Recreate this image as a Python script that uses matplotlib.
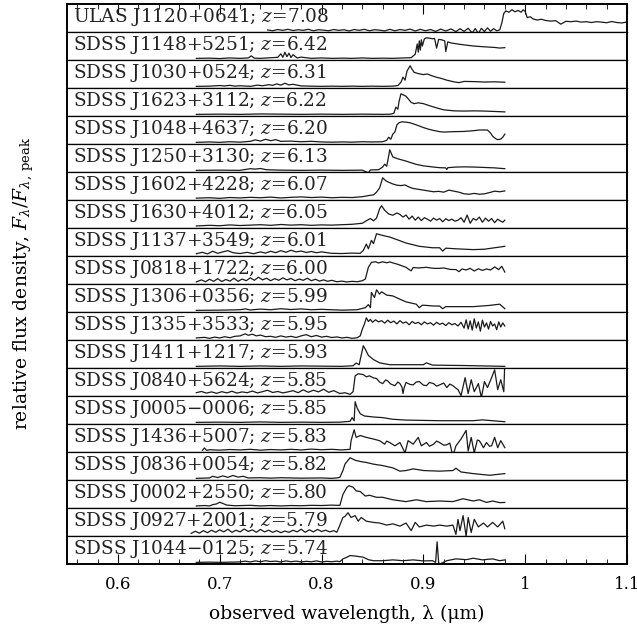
import matplotlib
matplotlib.use("Agg")
import matplotlib.pyplot as plt
from matplotlib.ticker import MultipleLocator

plt.rcParams["font.family"] = "DejaVu Serif"
plt.rcParams["mathtext.fontset"] = "dejavuserif"

# 类星体名称与红移
names = ["ULAS J1120+0641", "SDSS J1148+5251", "SDSS J1030+0524", "SDSS J1623+3112",
         "SDSS J1048+4637", "SDSS J1250+3130", "SDSS J1602+4228", "SDSS J1630+4012",
         "SDSS J1137+3549", "SDSS J0818+1722", "SDSS J1306+0356", "SDSS J1335+3533",
         "SDSS J1411+1217", "SDSS J0840+5624", "SDSS J0005\u22120006", "SDSS J1436+5007",
         "SDSS J0836+0054", "SDSS J0002+2550", "SDSS J0927+2001", "SDSS J1044\u22120125"]
redshifts = ["7.08", "6.42", "6.31", "6.22", "6.20", "6.13", "6.07", "6.05", "6.01", "6.00",
             "5.99", "5.95", "5.93", "5.85", "5.85", "5.83", "5.82", "5.80", "5.79", "5.74"]

# 光谱 (波长 um, 相对流量)
ulas_j1120 = [(0.747,0.02),(0.752,-0.02),(0.757,0.04),(0.762,0.0),(0.767,0.05),(0.772,-0.01),(0.777,0.03),(0.782,0.0),
    (0.787,0.05),(0.792,-0.02),(0.797,0.03),(0.802,0.01),(0.807,-0.02),(0.812,0.04),(0.817,0.0),(0.822,0.03),(0.827,-0.03),
    (0.832,0.04),(0.837,0.0),(0.842,0.05),(0.847,-0.02),(0.852,0.03),(0.857,0.01),(0.862,-0.03),(0.867,0.05),(0.872,-0.02),
    (0.877,0.04),(0.882,0.0),(0.887,0.06),(0.892,-0.03),(0.897,0.05),(0.902,-0.02),(0.907,0.04),(0.912,-0.05),(0.917,0.06),
    (0.922,-0.03),(0.927,0.07),(0.932,-0.06),(0.936,0.08),(0.940,-0.05),(0.944,0.1),(0.948,-0.12),(0.951,0.09),(0.954,-0.15),
    (0.957,0.1),(0.960,-0.06),(0.963,0.12),(0.966,-0.04),(0.969,0.08),(0.972,-0.02),(0.975,0.02),(0.977,0.35),(0.979,0.82),
    (0.981,0.95),(0.984,0.88),(0.987,1.0),(0.990,0.9),(0.993,0.97),(0.996,0.88),(0.998,1.0),(1.000,0.92),(1.002,0.62),
    (1.005,0.66),(1.008,0.55),(1.012,0.5),(1.016,0.54),(1.02,0.48),(1.025,0.45),(1.03,0.47),(1.035,0.3),(1.04,0.44),
    (1.045,0.42),(1.05,0.45),(1.055,0.4),(1.06,0.42),(1.065,0.38),(1.07,0.42),(1.075,0.4),(1.08,0.37),(1.085,0.43),
    (1.09,0.38),(1.095,0.36),(1.099,0.4)]
sdss_j1148 = [(0.677,0.0),(0.69,0.01),(0.70,-0.01),(0.71,0.02),(0.72,0.0),(0.728,0.02),(0.731,0.12),(0.734,0.01),(0.74,0.0),
    (0.75,0.03),(0.757,0.05),(0.760,0.22),(0.762,0.05),(0.764,0.3),(0.766,0.08),(0.768,0.25),(0.770,0.04),(0.772,0.18),
    (0.776,0.02),(0.78,0.06),(0.79,0.0),(0.80,0.02),(0.81,0.0),(0.82,0.01),(0.83,0.0),(0.84,0.02),(0.85,0.0),(0.86,0.01),
    (0.87,0.0),(0.88,0.02),(0.888,0.03),(0.892,0.2),(0.894,0.7),(0.895,0.3),(0.896,0.85),(0.897,0.4),(0.898,0.9),(0.899,0.6),
    (0.901,0.95),(0.903,1.0),(0.906,0.98),(0.909,0.95),(0.911,0.97),(0.913,0.5),(0.915,0.92),(0.918,0.9),(0.921,0.85),
    (0.922,0.33),(0.924,0.8),(0.927,0.75),(0.936,0.68),(0.949,0.6),(0.96,0.56),(0.97,0.53),(0.975,0.5),(0.98,0.52)]
sdss_j1030 = [(0.677,0.0),(0.69,0.01),(0.70,0.04),(0.705,0.02),(0.71,0.05),(0.715,0.01),(0.72,0.03),(0.73,0.0),(0.737,0.06),
    (0.742,0.03),(0.748,0.08),(0.752,0.05),(0.756,0.12),(0.76,0.06),(0.764,0.15),(0.768,0.07),(0.772,0.1),(0.78,0.02),
    (0.79,0.01),(0.80,0.0),(0.81,0.01),(0.82,0.0),(0.83,0.01),(0.84,0.0),(0.85,0.01),(0.86,0.0),(0.87,0.01),(0.875,0.04),
    (0.878,0.2),(0.880,0.45),(0.882,0.3),(0.884,0.75),(0.887,1.0),(0.889,0.82),(0.891,0.68),(0.895,0.62),(0.90,0.57),
    (0.904,0.6),(0.908,0.52),(0.913,0.44),(0.918,0.38),(0.923,0.3),(0.93,0.22),(0.935,0.18),(0.94,0.24),(0.95,0.23),
    (0.96,0.21),(0.97,0.22),(0.98,0.2)]
sdss_j1623 = [(0.677,0.0),(0.70,0.01),(0.72,0.0),(0.74,0.02),(0.76,0.01),(0.78,0.0),(0.80,0.01),(0.82,0.0),(0.84,0.01),
    (0.86,0.0),(0.868,0.01),(0.871,0.05),(0.873,0.35),(0.875,0.25),(0.876,0.6),(0.878,1.0),(0.880,0.95),(0.883,0.88),
    (0.886,0.7),(0.888,0.58),(0.891,0.52),(0.895,0.56),(0.90,0.52),(0.906,0.42),(0.91,0.36),(0.916,0.27),(0.92,0.22),
    (0.93,0.17),(0.94,0.16),(0.95,0.17),(0.96,0.16),(0.97,0.14),(0.98,0.12)]
sdss_j1048 = [(0.677,0.0),(0.69,0.02),(0.70,0.0),(0.71,0.03),(0.72,0.01),(0.73,0.05),(0.735,0.12),(0.74,0.06),(0.745,0.15),
    (0.75,0.08),(0.755,0.13),(0.76,0.05),(0.77,0.06),(0.78,0.03),(0.79,0.05),(0.80,0.02),(0.81,0.01),(0.82,0.02),(0.83,0.01),
    (0.84,0.03),(0.85,0.02),(0.86,0.03),(0.864,0.1),(0.866,0.25),(0.868,0.15),(0.870,0.4),(0.872,0.5),(0.874,0.85),
    (0.876,0.95),(0.879,1.0),(0.883,0.98),(0.887,0.95),(0.893,0.85),(0.90,0.72),(0.905,0.64),(0.91,0.58),(0.916,0.52),
    (0.92,0.5),(0.93,0.52),(0.94,0.53),(0.945,0.55),(0.95,0.57),(0.955,0.6),(0.963,0.6),(0.966,0.45),(0.968,0.3),
    (0.971,0.18),(0.973,0.13),(0.976,0.16),(0.978,0.25),(0.98,0.4)]
sdss_j1250 = [(0.677,0.0),(0.70,0.01),(0.72,0.0),(0.726,0.05),(0.73,0.08),(0.735,0.06),(0.74,0.09),(0.746,0.03),(0.76,0.01),
    (0.78,0.0),(0.80,0.01),(0.82,0.0),(0.84,0.01),(0.846,-0.12),(0.848,0.02),(0.856,0.03),(0.860,0.16),(0.862,0.3),
    (0.864,0.2),(0.865,0.45),(0.867,1.0),(0.870,0.65),(0.875,0.56),(0.883,0.45),(0.893,0.29),(0.90,0.22),(0.91,0.16),
    (0.916,0.13),(0.922,0.12),(0.923,0.04),(0.924,0.13),(0.932,0.16),(0.94,0.17),(0.95,0.16),(0.96,0.14),(0.97,0.12),
    (0.98,0.08)]
sdss_j1602 = [(0.677,0.01),(0.69,0.03),(0.70,0.0),(0.71,0.04),(0.72,0.02),(0.73,0.05),(0.74,0.03),(0.75,0.06),(0.76,0.02),
    (0.77,0.05),(0.78,0.07),(0.79,0.04),(0.80,0.06),(0.81,0.03),(0.82,0.05),(0.83,0.04),(0.84,0.08),(0.848,0.15),
    (0.851,0.17),(0.854,0.3),(0.857,0.5),(0.860,1.0),(0.863,0.86),(0.866,0.78),(0.87,0.7),(0.874,0.64),(0.878,0.62),
    (0.882,0.65),(0.886,0.55),(0.89,0.48),(0.895,0.44),(0.90,0.4),(0.905,0.36),(0.91,0.32),(0.915,0.34),(0.92,0.3),
    (0.925,0.4),(0.93,0.35),(0.935,0.3),(0.94,0.22),(0.945,0.2),(0.95,0.24),(0.955,0.2),(0.96,0.22),(0.965,0.28),
    (0.97,0.35),(0.975,0.32),(0.98,0.36)]
sdss_j1630 = [(0.677,0.02),(0.69,0.05),(0.70,0.03),(0.71,0.07),(0.72,0.04),(0.73,0.06),(0.74,0.08),(0.75,0.05),(0.76,0.09),
    (0.77,0.06),(0.78,0.08),(0.79,0.05),(0.80,0.07),(0.81,0.06),(0.82,0.08),(0.83,0.1),(0.84,0.15),(0.845,0.3),(0.848,0.38),
    (0.851,0.27),(0.854,0.4),(0.857,0.85),(0.859,1.0),(0.862,0.78),(0.866,0.6),(0.87,0.54),(0.874,0.65),(0.877,0.58),
    (0.88,0.45),(0.883,0.55),(0.886,0.35),(0.889,0.5),(0.892,0.3),(0.895,0.45),(0.898,0.28),(0.901,0.42),(0.904,0.35),
    (0.907,0.25),(0.91,0.4),(0.913,0.3),(0.916,0.38),(0.919,0.22),(0.922,0.37),(0.925,0.28),(0.928,0.35),(0.931,0.25),
    (0.934,0.3),(0.937,0.42),(0.94,0.2),(0.943,0.55),(0.946,0.15),(0.949,0.38),(0.952,0.3),(0.955,0.45),(0.958,0.2),
    (0.961,0.4),(0.964,0.25),(0.967,0.38),(0.97,0.18),(0.973,0.35),(0.976,0.25),(0.978,0.2),(0.98,0.3)]
sdss_j1137 = [(0.677,0.03),(0.683,0.1),(0.688,0.02),(0.693,0.15),(0.698,0.05),(0.703,0.12),(0.708,0.18),(0.713,0.08),
    (0.72,0.04),(0.727,0.1),(0.733,0.03),(0.74,0.12),(0.745,0.06),(0.75,0.15),(0.755,0.08),(0.76,0.18),(0.765,0.1),
    (0.77,0.2),(0.775,0.12),(0.78,0.16),(0.785,0.09),(0.79,0.14),(0.795,0.08),(0.80,0.12),(0.81,0.05),(0.82,0.04),
    (0.83,0.06),(0.838,0.05),(0.841,0.19),(0.844,0.5),(0.846,0.27),(0.849,0.68),(0.851,0.52),(0.854,1.0),(0.86,0.92),
    (0.867,0.84),(0.876,0.68),(0.883,0.55),(0.896,0.39),(0.909,0.32),(0.916,0.32),(0.919,0.16),(0.922,0.3),(0.932,0.27),
    (0.949,0.23),(0.96,0.25),(0.97,0.32),(0.98,0.39)]
sdss_j0818 = [(0.677,0.02),(0.682,0.12),(0.686,0.03),(0.69,0.15),(0.694,0.05),(0.698,0.18),(0.702,0.04),(0.706,0.14),
    (0.71,0.06),(0.714,0.2),(0.718,0.05),(0.722,0.16),(0.726,0.08),(0.73,0.22),(0.734,0.1),(0.738,0.25),(0.742,0.12),
    (0.746,0.2),(0.75,0.08),(0.754,0.18),(0.758,0.1),(0.762,0.22),(0.766,0.12),(0.77,0.19),(0.774,0.08),(0.778,0.16),
    (0.782,0.1),(0.786,0.2),(0.79,0.08),(0.794,0.15),(0.798,0.06),(0.802,0.12),(0.806,0.05),(0.81,0.1),(0.815,0.03),
    (0.82,0.06),(0.825,0.02),(0.83,0.05),(0.835,0.03),(0.84,0.08),(0.843,0.16),(0.846,0.73),(0.849,0.97),(0.853,1.0),
    (0.856,0.94),(0.86,1.0),(0.864,0.95),(0.867,0.99),(0.871,0.93),(0.874,0.89),(0.878,0.82),(0.883,0.73),(0.886,0.62),
    (0.888,0.56),(0.890,0.72),(0.895,0.7),(0.903,0.73),(0.91,0.68),(0.916,0.68),(0.92,0.7),(0.926,0.63),(0.932,0.62),
    (0.935,0.52),(0.938,0.65),(0.942,0.6),(0.946,0.68),(0.95,0.55),(0.954,0.66),(0.958,0.58),(0.962,0.65),(0.966,0.6),
    (0.97,0.75),(0.974,0.62),(0.977,0.78),(0.98,0.5)]
sdss_j1306 = [(0.677,0.0),(0.70,0.01),(0.72,0.03),(0.725,0.07),(0.73,0.02),(0.74,0.06),(0.75,0.03),(0.76,0.08),(0.77,0.04),
    (0.78,0.07),(0.79,0.03),(0.80,0.05),(0.82,0.01),(0.835,0.03),(0.843,0.13),(0.846,0.28),(0.848,0.13),(0.849,0.87),
    (0.852,0.62),(0.854,1.0),(0.857,0.79),(0.859,0.9),(0.864,0.74),(0.867,0.72),(0.870,0.7),(0.877,0.54),(0.883,0.41),
    (0.893,0.3),(0.896,0.13),(0.899,0.25),(0.903,0.24),(0.91,0.21),(0.916,0.21),(0.919,0.08),(0.922,0.18),(0.932,0.18),
    (0.949,0.18),(0.965,0.24),(0.975,0.3),(0.98,0.08)]
sdss_j1335 = [(0.677,0.02),(0.685,0.05),(0.69,0.0),(0.695,0.06),(0.70,0.02),(0.705,0.08),(0.71,0.03),(0.715,0.1),(0.72,0.12),
    (0.725,0.22),(0.728,0.15),(0.732,0.2),(0.736,0.12),(0.74,0.16),(0.745,0.08),(0.75,0.1),(0.755,0.05),(0.76,0.12),
    (0.765,0.06),(0.77,0.1),(0.775,0.04),(0.78,0.12),(0.785,0.18),(0.79,0.08),(0.795,0.14),(0.80,0.06),(0.805,0.1),
    (0.81,0.04),(0.815,0.07),(0.82,0.02),(0.825,0.05),(0.83,0.0),(0.835,0.03),(0.838,0.12),(0.840,0.44),(0.842,0.68),
    (0.844,1.0),(0.846,0.82),(0.848,0.92),(0.85,0.78),(0.853,0.9),(0.856,0.8),(0.859,0.86),(0.862,0.74),(0.865,0.88),
    (0.868,0.76),(0.871,0.84),(0.874,0.7),(0.877,0.86),(0.88,0.74),(0.883,0.8),(0.886,0.66),(0.889,0.82),(0.892,0.72),
    (0.895,0.78),(0.898,0.66),(0.901,0.8),(0.904,0.7),(0.907,0.76),(0.91,0.64),(0.913,0.78),(0.916,0.68),(0.919,0.74),
    (0.922,0.62),(0.925,0.76),(0.928,0.66),(0.931,0.72),(0.934,0.6),(0.937,0.78),(0.94,0.5),(0.942,0.9),(0.944,0.45),
    (0.946,0.85),(0.948,0.4),(0.950,0.95),(0.952,0.5),(0.954,0.8),(0.956,0.35),(0.958,0.88),(0.960,0.55),(0.962,0.75),
    (0.964,0.45),(0.966,0.82),(0.968,0.6),(0.970,0.7),(0.972,0.42),(0.974,0.8),(0.976,0.55),(0.978,0.75),(0.98,0.6)]
sdss_j1411 = [(0.677,0.0),(0.70,0.02),(0.72,0.0),(0.74,0.02),(0.76,0.0),(0.78,0.02),(0.80,0.01),(0.82,0.0),(0.831,0.03),
    (0.834,0.16),(0.837,0.08),(0.838,0.33),(0.841,1.0),(0.843,0.83),(0.846,0.53),(0.851,0.33),(0.857,0.17),(0.867,0.08),
    (0.90,0.08),(0.903,0.17),(0.909,0.06),(0.94,0.04),(0.98,0.0)]
sdss_j0840 = [(0.677,0.08),(0.682,0.14),(0.687,0.06),(0.692,0.12),(0.697,0.05),(0.702,0.13),(0.707,0.07),(0.712,0.15),
    (0.717,0.06),(0.722,0.12),(0.727,0.08),(0.732,0.16),(0.737,0.07),(0.742,0.13),(0.747,0.2),(0.752,0.09),(0.757,0.14),
    (0.762,0.07),(0.767,0.12),(0.772,0.18),(0.777,0.08),(0.782,0.22),(0.787,0.1),(0.792,0.2),(0.797,0.12),(0.802,0.25),
    (0.807,0.1),(0.812,0.18),(0.818,0.04),(0.823,0.08),(0.828,0.0),(0.831,0.13),(0.833,0.9),(0.836,1.0),(0.841,0.96),
    (0.844,0.85),(0.847,0.9),(0.851,0.8),(0.854,0.77),(0.857,0.6),(0.860,0.52),(0.863,0.7),(0.865,0.65),(0.868,0.5),
    (0.872,0.42),(0.875,0.6),(0.877,0.52),(0.879,0.35),(0.880,0.04),(0.881,0.3),(0.883,0.58),(0.887,0.48),(0.890,0.46),
    (0.893,0.6),(0.896,0.62),(0.9,0.45),(0.903,0.42),(0.906,0.58),(0.910,0.52),(0.913,0.4),(0.916,0.46),(0.92,0.55),
    (0.923,0.33),(0.926,0.5),(0.929,0.42),(0.932,0.3),(0.934,0.23),(0.937,-0.06),(0.941,0.81),(0.944,0.04),(0.947,0.71),
    (0.950,0.13),(0.954,0.52),(0.957,-0.15),(0.960,0.62),(0.963,0.33),(0.967,0.81),(0.970,1.19),(0.973,0.23),
    (0.976,0.71),(0.979,0.13),(0.980,1.58)]
sdss_j0005 = [(0.677,0.0),(0.70,0.01),(0.72,0.0),(0.74,0.02),(0.76,0.0),(0.78,0.01),(0.80,0.0),(0.818,0.01),(0.828,0.05),
    (0.830,0.23),(0.832,0.08),(0.833,1.0),(0.835,0.69),(0.838,0.42),(0.842,0.31),(0.851,0.26),(0.860,0.23),(0.870,0.15),
    (0.883,0.11),(0.916,0.08),(0.949,0.08),(0.958,0.12),(0.98,0.03)]
sdss_j1436 = [(0.683,0.0),(0.685,0.12),(0.687,0.0),(0.69,0.03),(0.70,0.01),(0.71,0.04),(0.72,0.02),(0.73,0.05),(0.74,0.01),
    (0.75,0.04),(0.76,0.02),(0.77,0.05),(0.78,0.02),(0.79,0.06),(0.80,0.03),(0.81,0.05),(0.82,0.02),(0.828,0.05),
    (0.829,0.47),(0.832,1.0),(0.834,0.63),(0.838,0.72),(0.844,0.63),(0.851,0.55),(0.857,0.47),(0.862,0.3),(0.864,0.45),
    (0.867,0.38),(0.872,0.22),(0.877,0.38),(0.882,-0.12),(0.885,0.47),(0.890,0.3),(0.895,0.63),(0.898,0.22),(0.903,0.38),
    (0.906,0.2),(0.910,0.3),(0.913,0.45),(0.916,0.38),(0.92,0.25),(0.923,0.27),(0.926,0.35),(0.929,-0.28),(0.932,0.22),
    (0.937,0.55),(0.942,0.97),(0.944,-0.03),(0.947,0.63),(0.950,-0.12),(0.953,0.5),(0.955,0.47),(0.959,0.13),
    (0.962,0.38),(0.965,0.2),(0.967,0.22),(0.970,0.63),(0.973,0.13),(0.976,0.47),(0.980,0.13)]
sdss_j0836 = [(0.677,0.0),(0.69,0.02),(0.693,0.1),(0.698,0.04),(0.703,0.12),(0.708,0.05),(0.713,0.14),(0.718,0.06),
    (0.723,0.1),(0.728,0.02),(0.74,0.03),(0.75,0.01),(0.76,0.03),(0.78,0.01),(0.80,0.02),(0.81,0.0),(0.815,0.02),
    (0.818,0.05),(0.821,0.38),(0.823,0.69),(0.828,1.0),(0.833,0.88),(0.838,0.82),(0.844,0.77),(0.851,0.69),(0.860,0.62),
    (0.870,0.51),(0.877,0.35),(0.883,0.38),(0.890,0.46),(0.900,0.38),(0.916,0.35),(0.929,0.38),(0.932,0.49),(0.937,0.31),
    (0.949,0.23),(0.965,0.15),(0.98,0.23)]
sdss_j0002 = [(0.677,0.02),(0.685,0.04),(0.69,0.02),(0.693,0.08),(0.697,0.12),(0.70,0.2),(0.703,0.14),(0.707,0.06),
    (0.715,0.03),(0.73,0.05),(0.74,0.02),(0.75,0.04),(0.76,0.02),(0.77,0.04),(0.78,0.03),(0.79,0.05),(0.80,0.04),
    (0.81,0.06),(0.815,0.05),(0.818,0.05),(0.821,0.58),(0.825,0.93),(0.827,1.0),(0.831,0.93),(0.834,0.75),(0.838,0.72),
    (0.843,0.5),(0.847,0.54),(0.854,0.44),(0.860,0.44),(0.870,0.32),(0.883,0.23),(0.893,0.32),(0.903,0.23),(0.916,0.26),
    (0.929,0.23),(0.939,0.37),(0.949,0.26),(0.955,0.32),(0.962,0.19),(0.968,0.26),(0.975,0.18),(0.98,0.19)]
sdss_j0927 = [(0.672,0.05),(0.676,0.15),(0.68,0.06),(0.684,0.18),(0.688,0.08),(0.692,0.2),(0.696,0.1),(0.70,0.22),
    (0.704,0.12),(0.708,0.25),(0.712,0.1),(0.716,0.2),(0.72,0.12),(0.724,0.26),(0.728,0.14),(0.732,0.22),(0.736,0.1),
    (0.74,0.24),(0.744,0.12),(0.748,0.2),(0.752,0.1),(0.756,0.18),(0.76,0.08),(0.764,0.16),(0.768,0.1),(0.772,0.2),
    (0.776,0.12),(0.78,0.25),(0.784,0.1),(0.788,0.22),(0.792,0.12),(0.796,0.24),(0.80,0.14),(0.804,0.2),(0.808,0.12),
    (0.812,0.18),(0.815,0.1),(0.818,0.45),(0.821,0.82),(0.823,0.87),(0.826,1.05),(0.829,0.82),(0.833,0.91),(0.836,0.64),
    (0.839,0.82),(0.844,0.64),(0.851,0.58),(0.857,0.55),(0.864,0.45),(0.870,0.51),(0.877,0.4),(0.883,0.55),(0.888,0.18),
    (0.892,0.58),(0.896,0.36),(0.903,0.45),(0.910,0.4),(0.916,0.45),(0.923,0.4),(0.929,0.45),(0.932,0.0),(0.934,0.73),
    (0.936,0.18),(0.939,0.91),(0.942,-0.09),(0.944,0.82),(0.947,0.09),(0.950,0.73),(0.954,0.36),(0.959,0.55),
    (0.963,0.36),(0.968,0.58),(0.973,0.36),(0.978,0.64),(0.98,0.27)]
sdss_j1044 = [(0.677,0.0),(0.69,0.01),(0.70,0.0),(0.71,0.01),(0.72,0.02),(0.725,0.06),(0.73,0.02),(0.735,0.07),(0.74,0.03),
    (0.745,0.08),(0.75,0.04),(0.755,0.06),(0.76,0.02),(0.765,0.07),(0.77,0.03),(0.775,0.06),(0.78,0.02),(0.785,0.05),
    (0.79,0.03),(0.795,0.07),(0.80,0.02),(0.805,0.05),(0.81,0.03),(0.815,0.06),(0.818,0.03),(0.821,0.17),(0.825,0.25),
    (0.828,0.33),(0.834,0.3),(0.841,0.25),(0.846,0.13),(0.851,0.08),(0.860,0.08),(0.870,0.12),(0.880,0.08),(0.890,0.12),
    (0.900,0.07),(0.909,0.08),(0.912,0.0),(0.9135,1.0),(0.915,0.0),(0.916,-0.08),(0.923,0.08),(0.932,0.17),(0.942,0.13),
    (0.949,0.2),(0.958,0.12),(0.968,0.17),(0.975,0.08),(0.98,0.12)]

spectra = [ulas_j1120, sdss_j1148, sdss_j1030, sdss_j1623, sdss_j1048, sdss_j1250, sdss_j1602, sdss_j1630,
           sdss_j1137, sdss_j0818, sdss_j1306, sdss_j1335, sdss_j1411, sdss_j0840, sdss_j0005, sdss_j1436,
           sdss_j0836, sdss_j0002, sdss_j0927, sdss_j1044]

fig = plt.figure(figsize=(6.37, 6.31), dpi=100)
n = len(spectra)
gs = fig.add_gridspec(n, 1, left=67 / 637, right=627 / 637, top=1 - 4 / 631, bottom=1 - 564 / 631, hspace=0)

axes = []
for i, spec in enumerate(spectra):
    ax = fig.add_subplot(gs[i])
    wl = [p[0] for p in spec]
    fx = [p[1] for p in spec]
    ax.plot(wl, fx, color="#1a1a1a", lw=0.9)
    ax.set_xlim(0.55, 1.1)
    ax.set_ylim(-0.08, 1.28)
    ax.set_yticks([])
    ax.xaxis.set_major_locator(MultipleLocator(0.1))
    ax.xaxis.set_minor_locator(MultipleLocator(0.02))
    ax.tick_params(axis="x", which="both", direction="in", bottom=False, top=False, labelbottom=False)
    for side in ["top", "bottom"]:
        ax.spines[side].set_linewidth(0.9)
    for side in ["left", "right"]:
        ax.spines[side].set_linewidth(1.4)
    ax.text(0.011, 0.92, names[i] + "; $z$=" + redshifts[i], transform=ax.transAxes,
            ha="left", va="top", fontsize=13.3, color="#222222")
    axes.append(ax)

axes[0].tick_params(axis="x", which="both", top=True)
axes[0].tick_params(axis="x", which="major", length=7)
axes[0].tick_params(axis="x", which="minor", length=3.5)
axes[0].spines["top"].set_linewidth(1.4)

axes[-1].tick_params(axis="x", which="both", bottom=True, labelbottom=True)
axes[-1].tick_params(axis="x", which="major", length=7, pad=9, labelsize=12)
axes[-1].tick_params(axis="x", which="minor", length=3.5)
axes[-1].spines["bottom"].set_linewidth(1.4)
axes[-1].set_xticks([0.6, 0.7, 0.8, 0.9, 1.0, 1.1])
axes[-1].set_xticklabels(["0.6", "0.7", "0.8", "0.9", "1", "1.1"])
axes[-1].set_xlabel("observed wavelength, \u03bb (\u03bcm)", fontsize=13.5, labelpad=8)

fig.text(0.037, (1 - 4 / 631 + 1 - 564 / 631) / 2,
         r"relative flux density, $F_\lambda/F_{\lambda,\,\mathrm{peak}}$",
         rotation=90, ha="center", va="center", fontsize=13.5)

fig.savefig("out.png", dpi=100)
